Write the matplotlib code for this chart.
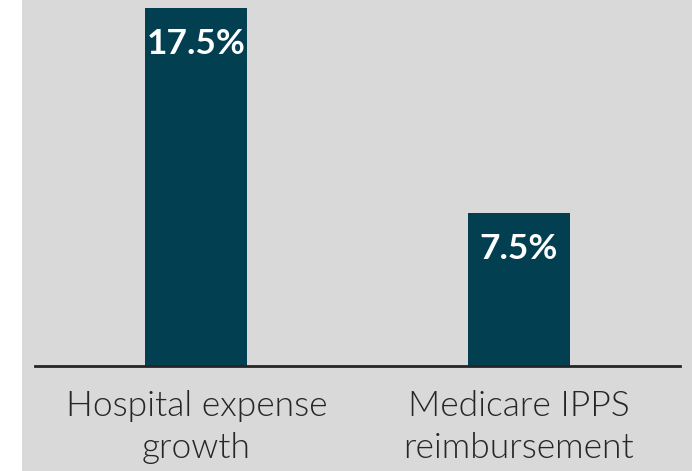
import matplotlib.pyplot as plt
from matplotlib.patches import Rectangle

categories = ["Hospital expense\ngrowth", "Medicare IPPS\nreimbursement"]
values = [17.5, 7.5]
value_labels = ["17.5%", "7.5%"]

W, H = 692, 471
fig = plt.figure(figsize=(W / 100, H / 100), dpi=100, facecolor="white")

# grey panel behind the chart, leaving a white strip on the left
fig.patches.append(Rectangle((22 / W, 0), 1 - 22 / W, 1, transform=fig.transFigure,
                             facecolor="#d9d9d9", edgecolor="none", zorder=-10))

ax = fig.add_axes([35 / W, 105 / H, 645 / W, 366 / H])
ax.set_facecolor("none")

x = range(len(categories))
bars = ax.bar(x, values, width=0.316, color="#023f51", zorder=2)
ax.set_xlim(-0.5, 1.5)
ax.set_ylim(0, 17.5 * 366 / 358)

for bar, lab in zip(bars, value_labels):
    ax.annotate(lab, (bar.get_x() + bar.get_width() / 2, bar.get_height()),
                xytext=(0, -26), textcoords="offset points", ha="center", va="center",
                color="white", fontsize=25.5, fontweight="bold", family=["Lato", "DejaVu Sans"])

for side in ["top", "right", "left"]:
    ax.spines[side].set_visible(False)
ax.spines["bottom"].set_color("#262626")
ax.spines["bottom"].set_linewidth(2)
ax.set_yticks([])
ax.set_xticks(list(x))
ax.set_xticklabels(categories, fontsize=25.5, color="#262626", linespacing=1.4,
                   family=["Lato", "DejaVu Sans"], fontweight=300)
ax.tick_params(axis="x", length=0, pad=17)

fig.savefig("out.png", dpi=100, facecolor=fig.get_facecolor())
